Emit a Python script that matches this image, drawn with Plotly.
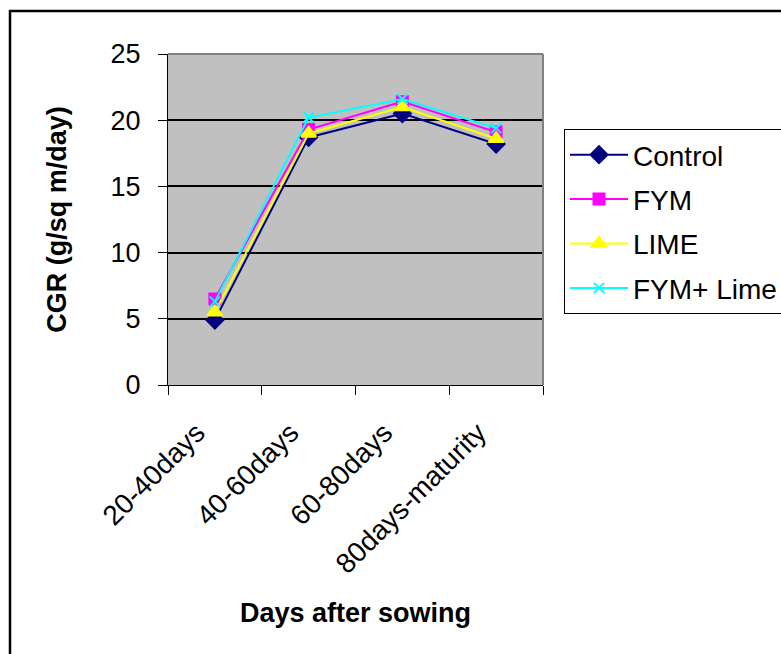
import plotly.graph_objects as go

# Crop growth rate by growth stage and soil treatment
stages = ["20-40days", "40-60days", "60-80days", "80days-maturity"]
control = [4.9, 18.7, 20.5, 18.2]
fym = [6.5, 19.3, 21.4, 19.1]
lime = [5.5, 19.0, 21.0, 18.6]
fym_lime = [6.3, 20.2, 21.6, 19.4]

y_ticks = [0, 5, 10, 15, 20, 25]

FONT = "Liberation Sans, Arial, sans-serif"

series = [
    ("Control", control, "#000080", "diamond", 13),
    ("FYM", fym, "#FF00FF", "square", 11),
    ("LIME", lime, "#FFFF00", "triangle-up", 13),
    ("FYM+ Lime", fym_lime, "#00FFFF", "x-thin-open", 10),
]

fig = go.Figure()
for name, vals, color, symbol, size in series:
    fig.add_trace(go.Scatter(
        x=stages, y=vals, name=name, mode="lines+markers",
        legendgroup=name,
        line=dict(color=color, width=2),
        marker=dict(symbol=symbol, size=size, color=color,
                    line=dict(color=color, width=2)),
    ))

W, H = 781, 654
L, R, T, B = 168, 543, 54, 385


def px_x(px):
    return (px - L) / (R - L)


def px_y(py):
    return (B - py) / (B - T)


fig.update_layout(
    width=W, height=H,
    margin=dict(l=L, r=W - R, t=T, b=H - B, pad=0),
    paper_bgcolor="white",
    plot_bgcolor="#C0C0C0",
    font=dict(family=FONT, size=26, color="black"),
    showlegend=True,
    legend=dict(
        xref="container", yref="container",
        x=564 / W, y=1 - 129 / H, xanchor="left", yanchor="top",
        bgcolor="white", bordercolor="black", borderwidth=1,
        font=dict(family=FONT, size=28, color="black"),
        traceorder="grouped", tracegroupgap=5, itemwidth=58,
    ),
    xaxis=dict(
        type="category", range=[-0.5, 3.5],
        showgrid=False, showline=True, linecolor="black", linewidth=1,
        ticks="outside", tickson="boundaries", ticklen=9,
        tickcolor="black", tickwidth=1,
        tickangle=-45, tickfont=dict(family=FONT, size=28),
        ticklabelstandoff=19, ticklabelshift=-18,
        title=dict(text="<b>Days after sowing</b>", standoff=24,
                   font=dict(family=FONT, size=27)),
    ),
    yaxis=dict(
        range=[0, 25], tickvals=y_ticks,
        showgrid=True, gridcolor="black", gridwidth=2,
        zeroline=False,
        showline=True, linecolor="black", linewidth=1,
        ticks="outside", ticklen=9, tickcolor="black", tickwidth=1,
        ticklabelstandoff=12,
        tickfont=dict(family=FONT, size=27),
        title=dict(text="<b>CGR (g/sq m/day)</b>", standoff=36,
                   font=dict(family=FONT, size=27)),
    ),
    shapes=[
        # grey frame on the top and right of the plotting area
        dict(type="line", xref="paper", yref="paper", x0=0, x1=1, y0=1, y1=1,
             line=dict(color="#808080", width=2), layer="above"),
        dict(type="line", xref="paper", yref="paper", x0=1, x1=1, y0=0, y1=1,
             line=dict(color="#808080", width=2), layer="above"),
        # outer chart border
        dict(type="line", xref="paper", yref="paper",
             x0=px_x(10), x1=px_x(10), y0=px_y(700), y1=px_y(10),
             line=dict(color="black", width=2.5)),
        dict(type="line", xref="paper", yref="paper",
             x0=px_x(9), x1=px_x(800), y0=px_y(11), y1=px_y(11),
             line=dict(color="black", width=2.5)),
    ],
)

fig.write_html("out.html")
